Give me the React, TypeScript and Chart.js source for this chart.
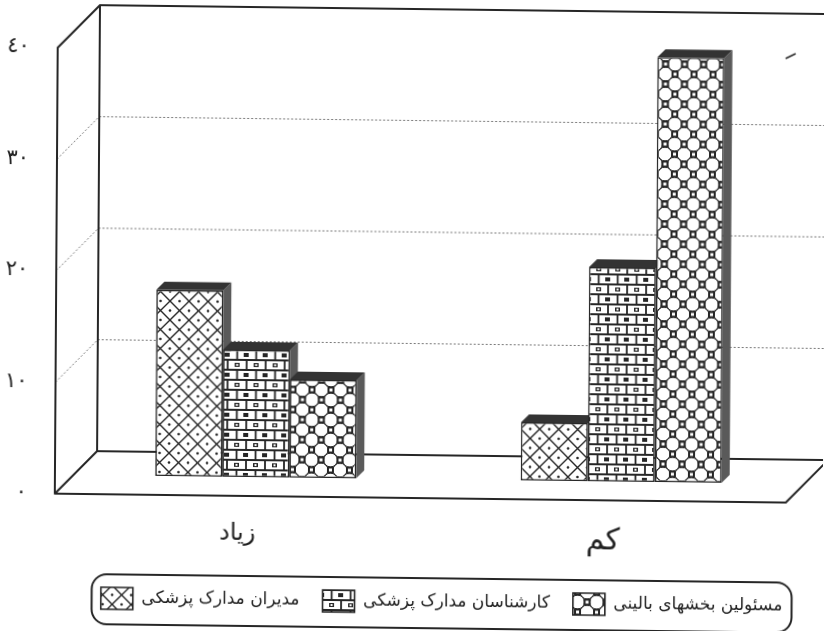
import React, { useEffect, useRef } from "react";
import { Chart, registerables } from "chart.js";

Chart.register(...registerables);

const categories = ["زیاد", "کم"];
const managers = [16.7, 5.2];
const experts = [11.4, 19.2];
const wardHeads = [8.8, 38.1];
const seriesNames = ["مدیران مدارک پزشکی", "کارشناسان مدارک پزشکی", "مسئولین بخشهای بالینی"];
const yTickLabels = ["٠", "١٠", "٢٠", "٣٠", "٤٠"];

const INK = "#262626";
const DEPTH_X = 42;
const DEPTH_Y = 43;
const BAR_SHIFT_X = 18;
const BAR_SHIFT_Y = 19;
const EXTRUDE = 8;

function tile(w: number, h: number, paint: (c: CanvasRenderingContext2D) => void) {
  const t = document.createElement("canvas");
  t.width = w;
  t.height = h;
  const c = t.getContext("2d")!;
  c.fillStyle = "#ffffff";
  c.fillRect(0, 0, w, h);
  c.strokeStyle = INK;
  c.fillStyle = INK;
  paint(c);
  return document.createElement("canvas").getContext("2d")!.createPattern(t, "repeat")!;
}

function latticePattern() {
  return tile(19, 19, (c) => {
    c.lineWidth = 1.4;
    c.beginPath();
    c.moveTo(0, 0);
    c.lineTo(19, 19);
    c.moveTo(19, 0);
    c.lineTo(0, 19);
    c.stroke();
    for (const [x, y] of [[9.5, 0], [9.5, 19], [0, 9.5], [19, 9.5]]) {
      c.beginPath();
      c.arc(x, y, 1.3, 0, Math.PI * 2);
      c.fill();
    }
  });
}

function brickPattern() {
  return tile(19, 20, (c) => {
    c.lineWidth = 1.8;
    c.beginPath();
    c.moveTo(0, 1);
    c.lineTo(19, 1);
    c.moveTo(0, 11);
    c.lineTo(19, 11);
    c.moveTo(1, 0);
    c.lineTo(1, 10);
    c.moveTo(10.5, 10);
    c.lineTo(10.5, 20);
    c.stroke();
    c.fillRect(8, 4, 5, 4);
    c.fillRect(0, 14, 3, 4);
    c.fillRect(17, 14, 2, 4);
    c.fillStyle = "#ffffff";
    c.fillRect(9.5, 5, 2, 2);
  });
}

function ringPattern() {
  return tile(19, 20, (c) => {
    c.lineWidth = 1;
    for (const [x, y] of [[9.5, 0], [9.5, 20], [0, 10], [19, 10]]) {
      c.beginPath();
      c.arc(x, y, 6.9, 0, Math.PI * 2);
      c.stroke();
    }
    c.lineWidth = 2;
    for (const [x, y] of [[0, 0], [19, 0], [0, 20], [19, 20], [9.5, 10]]) {
      c.fillStyle = "#ffffff";
      c.fillRect(x - 3, y - 3, 6, 6);
      c.strokeRect(x - 2.5, y - 2.5, 5, 5);
    }
  });
}

const framePlugin = {
  id: "frame3d",
  afterLayout(chart: any) {
    chart.legend.left += 50;
    chart.legend.right += 50;
    chart.legend.top = 568;
  },
  beforeDatasetsDraw(chart: any) {
    const { ctx, chartArea, scales } = chart;
    const { left, right, bottom, top } = chartArea;
    const y = scales.y;
    ctx.save();
    ctx.strokeStyle = "#777777";
    ctx.lineWidth = 1;
    ctx.setLineDash([2, 2]);
    for (const v of y.ticks.map((t: any) => t.value)) {
      if (v === y.min || v === y.max) continue;
      const p = y.getPixelForValue(v);
      ctx.beginPath();
      ctx.moveTo(left, p);
      ctx.lineTo(left + DEPTH_X, p - DEPTH_Y);
      ctx.lineTo(right + DEPTH_X, p - DEPTH_Y);
      ctx.stroke();
    }
    ctx.setLineDash([]);
    ctx.strokeStyle = INK;
    ctx.lineWidth = 2;
    ctx.lineJoin = "round";
    ctx.beginPath();
    ctx.moveTo(right + DEPTH_X, top - DEPTH_Y);
    ctx.lineTo(left + DEPTH_X, top - DEPTH_Y);
    ctx.lineTo(left, top);
    ctx.lineTo(left, bottom);
    ctx.lineTo(right, bottom);
    ctx.lineTo(right + DEPTH_X, bottom - DEPTH_Y);
    ctx.moveTo(left + DEPTH_X, top - DEPTH_Y);
    ctx.lineTo(left + DEPTH_X, bottom - DEPTH_Y);
    ctx.lineTo(right + DEPTH_X, bottom - DEPTH_Y);
    ctx.moveTo(left, bottom);
    ctx.lineTo(left + DEPTH_X, bottom - DEPTH_Y);
    ctx.stroke();
    // stray pen mark on the scanned page
    ctx.lineWidth = 1.5;
    ctx.beginPath();
    ctx.moveTo(right - 3, top + 2);
    ctx.lineTo(right + 7, top - 3);
    ctx.stroke();
    ctx.restore();

    ctx.save();
    ctx.translate(BAR_SHIFT_X, -BAR_SHIFT_Y);
    chart.data.datasets.forEach((_: any, i: number) => {
      for (const bar of chart.getDatasetMeta(i).data) {
        const l = bar.x - bar.width / 2;
        const r = bar.x + bar.width / 2;
        ctx.fillStyle = "#5a5a5a";
        ctx.beginPath();
        ctx.moveTo(r, bar.y);
        ctx.lineTo(r + EXTRUDE, bar.y - EXTRUDE);
        ctx.lineTo(r + EXTRUDE, bar.base - EXTRUDE);
        ctx.lineTo(r, bar.base);
        ctx.closePath();
        ctx.fill();
        ctx.fillStyle = "#333333";
        ctx.beginPath();
        ctx.moveTo(l, bar.y);
        ctx.lineTo(l + EXTRUDE, bar.y - EXTRUDE);
        ctx.lineTo(r + EXTRUDE, bar.y - EXTRUDE);
        ctx.lineTo(r, bar.y);
        ctx.closePath();
        ctx.fill();
      }
    });
  },
  afterDatasetsDraw(chart: any) {
    chart.ctx.restore();
  },
  afterDraw(chart: any) {
    const { ctx, legend } = chart;
    const cx = (legend.left + legend.right) / 2;
    const w = 700;
    const h = 50;
    const t = legend.top + 10;
    ctx.save();
    ctx.strokeStyle = INK;
    ctx.lineWidth = 2;
    ctx.beginPath();
    ctx.roundRect(cx - w / 2, t, w, h, 15);
    ctx.stroke();
    ctx.restore();
  },
};

export default function App() {
  const ref = useRef<HTMLCanvasElement>(null);
  useEffect(() => {
    const border = { borderColor: INK, borderWidth: 1.6, borderSkipped: false };
    const chart = new Chart(ref.current!, {
      type: "bar",
      data: {
        labels: categories,
        datasets: [
          { label: seriesNames[0], data: managers, backgroundColor: latticePattern(), ...border },
          { label: seriesNames[1], data: experts, backgroundColor: brickPattern(), ...border },
          { label: seriesNames[2], data: wardHeads, backgroundColor: ringPattern(), ...border },
        ],
      },
      options: {
        animation: false,
        responsive: false,
        layout: { autoPadding: false, padding: { left: 0, right: 37, top: 52, bottom: 2 } },
        datasets: { bar: { categoryPercentage: 0.55, barPercentage: 1 } },
        scales: {
          x: {
            grid: { display: false },
            border: { display: false },
            ticks: {
              color: "#222",
              font: (c: any) => ({ family: "DejaVu Sans", size: c.index === 1 ? 30 : 24 }),
              padding: 15,
              maxRotation: 0,
            },
            afterFit: (s: any) => { s.height = 76; },
          },
          y: {
            min: 0,
            max: 40,
            grid: { display: false },
            border: { display: false },
            ticks: {
              stepSize: 10,
              padding: 20,
              color: "#222",
              font: { family: "DejaVu Sans", size: 21 },
              callback: (v: any) => yTickLabels[Number(v) / 10],
            },
            afterFit: (s: any) => { s.width = 56; },
          },
        },
        plugins: {
          title: { display: false },
          tooltip: { enabled: false },
          legend: {
            position: "bottom",
            labels: {
              boxWidth: 32,
              boxHeight: 22,
              padding: 23,
              color: "#222",
              font: { family: "DejaVu Sans", size: 17 },
            },
          },
        },
      },
      plugins: [framePlugin],
    } as any);
    return () => chart.destroy();
  }, []);
  return (
    <div style={{ position: "fixed", inset: 0, overflow: "hidden", background: "#ffffff" }}>
      <canvas
        ref={ref}
        width={824}
        height={631}
        style={{
          position: "absolute",
          left: 0,
          top: 0,
          width: 824,
          height: 631,
          transform: "matrix(1, 0.0122, -0.0065, 1, 0, 0)",
          filter: "blur(0.4px)",
        }}
      />
    </div>
  );
}
